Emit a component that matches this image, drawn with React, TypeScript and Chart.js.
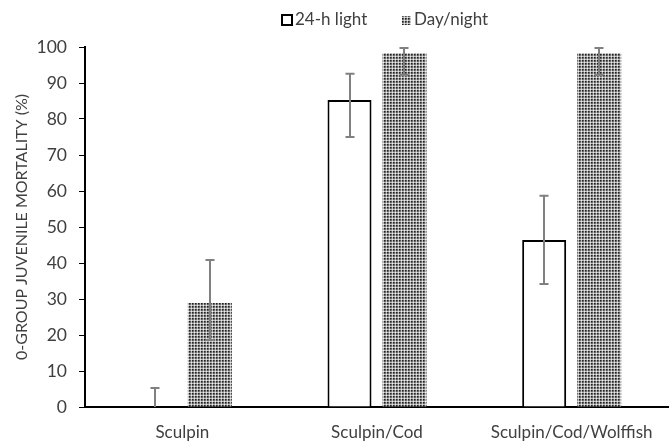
import React, { useEffect, useRef } from "react";
import { Chart, registerables } from "chart.js";

Chart.register(...registerables);

const categories = ["Sculpin", "Sculpin/Cod", "Sculpin/Cod/Wolffish"];
const seriesNames = ["24-h light", "Day/night"];
const lightValues = [0, 85.3, 46.4];
const lightHigh = [5.3, 92.6, 58.7];
const lightLow = [-5.3, 75.0, 34.2];
const dayNightValues = [28.9, 98.3, 98.3];
const dayNightHigh = [40.8, 99.7, 99.7];
const dayNightLow = [18.6, 92.2, 92.2];
const yTitle = "0-GROUP JUVENILE MORTALITY (%)";

const FONT = "Lato";
const TEXT = "#404040";

function makePattern(): CanvasPattern | string {
  const c = document.createElement("canvas");
  c.width = 3;
  c.height = 3;
  const g = c.getContext("2d");
  if (!g) return "#999";
  const px = [
    ["#222222", "#555555", "#bbbbbb"],
    ["#555555", "#777777", "#bbbbbb"],
    ["#bbbbbb", "#bbbbbb", "#eeeeee"],
  ];
  for (let r = 0; r < 3; r++)
    for (let k = 0; k < 3; k++) {
      g.fillStyle = px[r][k];
      g.fillRect(k, r, 1, 1);
    }
  const p = g.createPattern(c, "repeat");
  return p || "#999";
}

export default function App() {
  const ref = useRef<HTMLCanvasElement>(null);
  useEffect(() => {
    if (!ref.current) return;
    const pattern = makePattern();
    const errs = [
      { high: lightHigh, low: lightLow },
      { high: dayNightHigh, low: dayNightLow },
    ];
    const errorPlugin = {
      id: "errbars",
      afterDatasetsDraw(chart: any) {
        const ctx = chart.ctx;
        const ys = chart.scales.y;
        ctx.save();
        ctx.strokeStyle = "#808080";
        ctx.lineWidth = 2;
        chart.data.datasets.forEach((_d: any, i: number) => {
          const meta = chart.getDatasetMeta(i);
          meta.data.forEach((bar: any, j: number) => {
            const hi = errs[i].high[j];
            const lo = errs[i].low[j];
            const x = Math.round(bar.x);
            const yHi = ys.getPixelForValue(hi);
            const yLo = ys.getPixelForValue(Math.max(lo, ys.min));
            ctx.beginPath();
            ctx.moveTo(x, yHi);
            ctx.lineTo(x, yLo);
            ctx.moveTo(x - 4.5, yHi);
            ctx.lineTo(x + 4.5, yHi);
            if (lo >= ys.min) {
              ctx.moveTo(x - 4.5, yLo);
              ctx.lineTo(x + 4.5, yLo);
            }
            ctx.stroke();
          });
        });
        ctx.restore();
      },
    };
    const legendPlugin = {
      id: "customLegend",
      afterDraw(chart: any) {
        const ctx = chart.ctx;
        ctx.save();
        ctx.font = `17px ${FONT}`;
        ctx.textBaseline = "middle";
        const cy = 20;
        ctx.fillStyle = "#fff";
        ctx.fillRect(282, cy - 5, 10, 10);
        ctx.strokeStyle = "#000";
        ctx.lineWidth = 2;
        ctx.strokeRect(282, cy - 5, 10, 10);
        ctx.fillStyle = TEXT;
        ctx.fillText(seriesNames[0], 295, cy);
        ctx.fillStyle = pattern as any;
        ctx.fillRect(402, cy - 4, 9, 9);
        ctx.fillStyle = TEXT;
        ctx.fillText(seriesNames[1], 414, cy);
        ctx.restore();
      },
    };
    const chart = new Chart(ref.current, {
      type: "bar",
      data: {
        labels: categories,
        datasets: [
          {
            label: seriesNames[0],
            data: lightValues,
            backgroundColor: "#ffffff",
            borderColor: "#000000",
            borderWidth: 2,
          },
          {
            label: seriesNames[1],
            data: dayNightValues,
            backgroundColor: pattern as any,
            borderWidth: 0,
          },
        ],
      },
      options: {
        animation: false,
        responsive: false,
        events: [],
        categoryPercentage: 0.565,
        barPercentage: 0.8,
        layout: { padding: { top: 47, right: 0, left: 0, bottom: 0 } },
        plugins: {
          legend: { display: false },
          tooltip: { enabled: false },
        },
        scales: {
          x: {
            grid: { display: false },
            border: { display: true, color: "#000", width: 2 },
            ticks: {
              color: TEXT,
              font: { family: FONT, size: 17 },
              padding: 7,
              maxRotation: 0,
            },
            afterFit(s: any) {
              s.height = 34;
            },
          },
          y: {
            min: 0,
            max: 100,
            ticks: {
              stepSize: 10,
              color: TEXT,
              font: { family: FONT, size: 17.5 },
              padding: 12,
            },
            grid: {
              drawOnChartArea: false,
              drawTicks: true,
              tickLength: 6,
              color: "#000",
              lineWidth: 1,
            },
            border: { display: true, color: "#000", width: 2 },
            title: {
              display: true,
              text: yTitle,
              color: TEXT,
              font: { family: FONT, size: 16 },
              padding: { top: 12, bottom: 0 },
            },
            afterFit(s: any) {
              s.width = 85;
            },
          },
        },
      },
      plugins: [errorPlugin, legendPlugin],
    });
    return () => chart.destroy();
  }, []);
  return (
    <div style={{ position: "fixed", left: 0, top: 0, width: 669, height: 441, background: "#fff" }}>
      <canvas ref={ref} width={669} height={441} />
    </div>
  );
}
